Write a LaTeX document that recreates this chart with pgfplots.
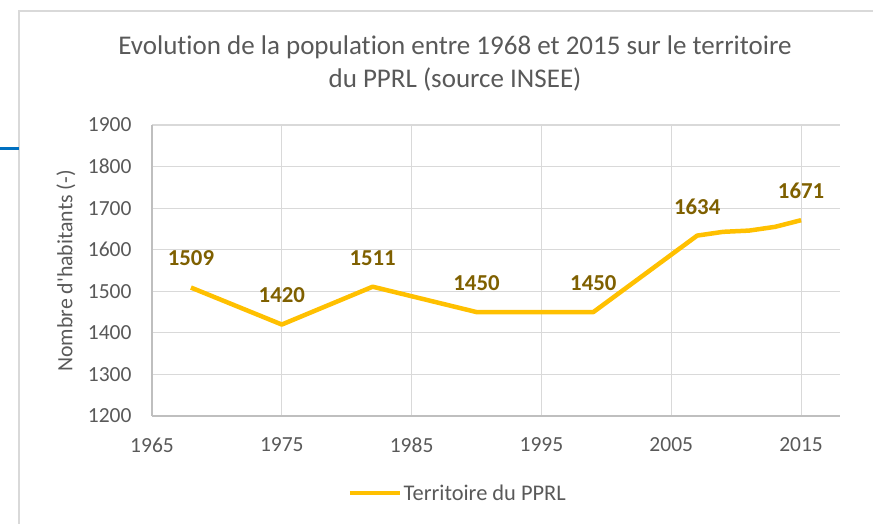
\documentclass[border=0pt]{standalone}
\usepackage{pgfplots}
\pgfplotsset{compat=1.18}
\usepackage{fontspec}
\defaultfontfeatures[\rmfamily]{}
\setmainfont{Carlito}[Ligatures={NoCommon}]
\definecolor{gridgray}{HTML}{D9D9D9}
\definecolor{axisgray}{HTML}{BFBFBF}
\definecolor{textgray}{HTML}{595959}
\definecolor{lineorange}{HTML}{FFC000}
\definecolor{labelbrown}{HTML}{7F6000}
\definecolor{blueline}{HTML}{0070C0}
\begin{document}
\begin{tikzpicture}
\useasboundingbox (-152pt,-108pt) rectangle (721pt,416pt);
\draw[gridgray, line width=1.5pt] (-133pt,-130pt) -- (-133pt,405pt) -- (740pt,405pt);
\draw[blueline, line width=3pt] (-152pt,267pt) -- (-133pt,267pt);
\node[font=\fontsize{27}{33}\selectfont, text=textgray, align=center] at (303pt,352pt)
  {Evolution de la population entre 1968 et 2015 sur le territoire\\du PPRL (source INSEE)};
\node[font=\fontsize{21.8}{25}\selectfont, text=textgray, rotate=90] at (-86pt,145pt) {Nombre d'habitants (-)};
\begin{axis}[
  at={(0pt,0pt)}, anchor=south west,
  scale only axis, width=688pt, height=291pt,
  xmin=1965, xmax=2018, ymin=1200, ymax=1900,
  xtick={1965,1975,1985,1995,2005,2015},
  ytick={1200,1300,1400,1500,1600,1700,1800,1900},
  axis lines*=left,
  axis line style={axisgray, line width=1.2pt},
  grid=major,
  major grid style={gridgray, line width=1.1pt},
  major tick length=0pt,
  /pgf/number format/assume math mode=true,
  /pgf/number format/1000 sep={},
  tick label style={font=\fontsize{21.5}{25}\selectfont, text=textgray},
  xticklabel style={yshift=-18pt},
  yticklabel style={xshift=-17pt},
  legend style={at={(0.444,-0.265)}, anchor=center, draw=none, fill=none,
    font=\fontsize{22.4}{26}\selectfont, text=textgray, inner sep=0pt,
    nodes={inner xsep=1.5pt}},
  legend cell align=left,
  legend image code/.code={\draw[lineorange, line width=4.5pt] (0pt,0pt) -- (50pt,0pt);},
  clip=false,
]
\addplot[lineorange, line width=4.5pt, line join=round] coordinates {
  (1968,1509) (1975,1420) (1982,1511) (1990,1450) (1999,1450)
  (2007,1634) (2009,1643) (2011,1646) (2013,1655) (2015,1671)
};
\addlegendentry{Territoire du PPRL}
\addplot[draw=none, forget plot, nodes near coords, point meta=explicit symbolic,
  every node near coord/.style={font=\bfseries\fontsize{22.8}{26}\selectfont, text=labelbrown, anchor=center, yshift=29pt}]
  coordinates {
  (1968,1509) [1509] (1975,1420) [1420] (1982,1511) [1511] (1990,1450) [1450]
  (1999,1450) [1450] (2007,1634) [1634] (2015,1671) [1671]
};
\end{axis}
\end{tikzpicture}
\end{document}
